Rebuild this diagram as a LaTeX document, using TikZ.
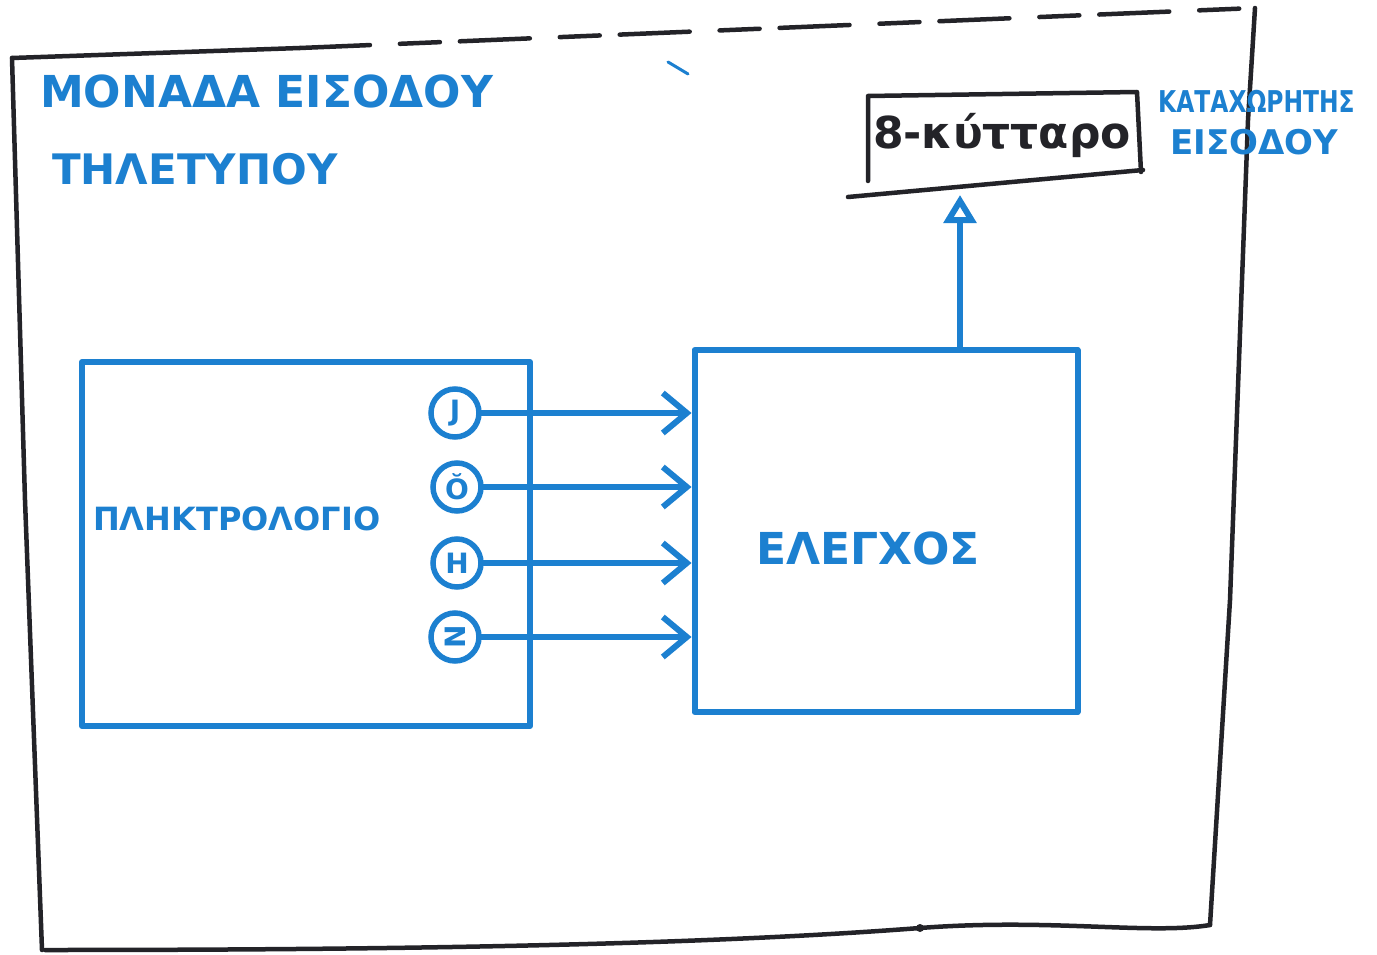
\documentclass[tikz,border=0pt]{standalone}
\usepackage{fontspec}
\setmainfont{DejaVu Sans}
\usetikzlibrary{arrows.meta}
\definecolor{pen}{RGB}{28,128,208}
\definecolor{ink}{RGB}{35,35,40}
\tikzset{
  frame/.style={draw=ink, line width=4.5pt, line cap=round, line join=round},
  bluebox/.style={draw=pen, line width=6pt, rectangle, inner sep=0pt, line join=round},
  keycircle/.style={circle, draw=pen, line width=5.5pt, minimum size=48pt, inner sep=0pt, text=pen,
    font=\fontsize{28}{28}\selectfont\bfseries},
  signal/.style={draw=pen, line width=6pt, line cap=round,
    -{Straight Barb[length=24pt,width=40pt]}},
  uparrow/.style={draw=pen, line width=6pt, -{Triangle[open,length=28pt,width=32pt]}},
  bluetext/.style={text=pen, inner sep=0pt},
  inktext/.style={text=ink, inner sep=0pt},
}
\begin{document}
\begin{tikzpicture}[x=1pt,y=-1pt]
\useasboundingbox (0,0) rectangle (1377,955);
\fill[white] (0,0) rectangle (1377,955);

% outer frame
\draw[frame] (12,58) -- (300,48);
\draw[frame, dash pattern=on 70pt off 30pt on 40pt off 20pt] (300,48) -- (1255,8);
\draw[frame] (1255,8) -- (1248,120) -- (1230,600) -- (1210,925);
\draw[frame] (12,58) -- (25,500) -- (42,950);
\draw[frame] (45,950) .. controls (400,950) and (700,945) .. (920,928) .. controls (1050,918) and (1150,935) .. (1210,925);
\fill[ink] (920,928) circle (4pt);
\draw[pen, line width=3pt, line cap=round] (668,62) -- (688,74);

% title
\node[bluetext, anchor=base west, font=\fontsize{44}{50}\selectfont\bfseries] (title1) at (40,108) {ΜΟΝΑΔΑ ΕΙΣΟΔΟΥ};
\node[bluetext, anchor=base west, font=\fontsize{42}{50}\selectfont\bfseries] (title2) at (52,185) {ΤΗΛΕΤΥΠΟΥ};

% register
\node[inktext, font=\fontsize{44}{50}\selectfont\bfseries, minimum width=272pt, minimum height=82pt] (reg) at (1002,135) {8-κύτταρο};
\draw[frame] (868,181) -- (868,96) -- (1137,92) -- (1141,172);
\draw[frame] (848,197) -- (1143,170);
\coordinate (regin) at (960,195);
\node[bluetext, anchor=base west, font=\fontsize{30}{34}\selectfont\bfseries] (reglab1) at (1158,113) {\scalebox{0.78}[1]{ΚΑΤΑΧΩΡΗΤΗΣ}};
\node[bluetext, anchor=base west, font=\fontsize{34}{40}\selectfont\bfseries] (reglab2) at (1170,155) {ΕΙΣΟΔΟΥ};

% keyboard
\node[bluebox, minimum width=448pt, minimum height=364pt] (kbd) at (306,544) {};
\node[bluetext, anchor=base west, font=\fontsize{32}{36}\selectfont\bfseries] (kbdlab) at (93,530) {ΠΛΗΚΤΡΟΛΟΓΙΟ};

% control
\node[bluebox, minimum width=383pt, minimum height=362pt] (ctrl) at (886,531) {};
\node[bluetext, font=\fontsize{44}{50}\selectfont\bfseries] (ctrllab) at (868,548) {ΕΛΕΓΧΟΣ};

% key circles
\node[keycircle] (c1) at (455,413) {J};
\node[keycircle] (c2) at (457,487) {Ŏ};
\node[keycircle] (c3) at (457,563) {H};
\node[keycircle] (c4) at (455,637) {\rotatebox{90}{N}};

\draw[signal] (c1.east) -- (c1.east -| ctrl.west);
\draw[signal] (c2.east) -- (c2.east -| ctrl.west);
\draw[signal] (c3.east) -- (c3.east -| ctrl.west);
\draw[signal] (c4.east) -- (c4.east -| ctrl.west);

\draw[uparrow] (ctrl.north -| regin) -- (regin);
\end{tikzpicture}
\end{document}
